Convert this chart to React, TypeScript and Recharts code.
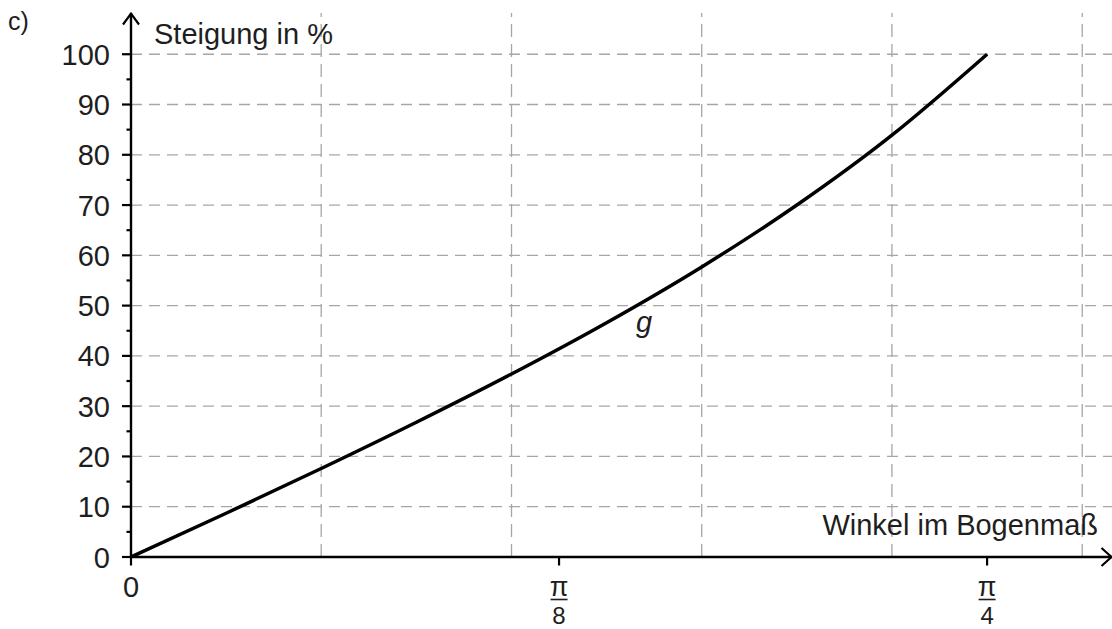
import React from "react";
import { LineChart, Line, XAxis, YAxis, ReferenceLine, ReferenceDot } from "recharts";

// Winkel im Bogenmaß (radians) and Steigung in %
const angles = [0, 0.0873, 0.1745, 0.2618, 0.3491, 0.4363, 0.5236, 0.6109, 0.6981, 0.7854];
const slopes = [0, 8.7, 17.6, 26.8, 36.4, 46.6, 57.7, 70.0, 83.9, 100];

const xTicks = [0, Math.PI / 8, Math.PI / 4];
const xTickNumerators = ["0", "π", "π"];
const xTickDenominators = ["", "8", "4"];
const xGrid = [0.1745, 0.3491, 0.5236, 0.6981, 0.8727]; // every 10°
const yTicks = [0, 5, 10, 15, 20, 25, 30, 35, 40, 45, 50, 55, 60, 65, 70, 75, 80, 85, 90, 95, 100];
const yGrid = [10, 20, 30, 40, 50, 60, 70, 80, 90, 100];

const X_MAX = 0.9;
const Y_MAX = 108.2;
const curveLabel = { x: 0.4633, y: 44.8, text: "g" };

const data = angles.map((a, i) => ({ x: a, y: slopes[i] }));

const FONT = '"Liberation Sans", Arial, Helvetica, sans-serif';
const TXT = "#1e1e1e";
const GRID = "#a6a6a6";

const YTick = (props: any) => {
  const { x, y, payload } = props;
  const v = payload.value;
  const major = v % 10 === 0;
  return (
    <g>
      <line x1={x - (major ? 9 : 4.5)} x2={x} y1={y} y2={y} stroke="#000" strokeWidth={2.2} />
      {major && (
        <text x={x - 21} y={y + 10.5} textAnchor="end" fontSize={29} fontFamily={FONT} fill={TXT}>
          {v}
        </text>
      )}
    </g>
  );
};

const XTick = (props: any) => {
  const { x, y, payload, index } = props;
  const i = typeof index === "number" ? index : xTicks.indexOf(payload.value);
  const num = xTickNumerators[i] ?? "";
  const den = xTickDenominators[i] ?? "";
  return (
    <g>
      <line x1={x} x2={x} y1={y} y2={y + 8.5} stroke="#000" strokeWidth={2.2} />
      {den === "" ? (
        <text x={x} y={y + 40} textAnchor="middle" fontSize={29} fontFamily={FONT} fill={TXT}>
          {num}
        </text>
      ) : (
        <g>
          <text x={x} y={y + 39} textAnchor="middle" fontSize={27} fontFamily={FONT} fill={TXT}>
            {num}
          </text>
          <line x1={x - 8.5} x2={x + 8.5} y1={y + 42.5} y2={y + 42.5} stroke={TXT} strokeWidth={1.6} />
          <text x={x} y={y + 66.5} textAnchor="middle" fontSize={24} fontFamily={FONT} fill={TXT}>
            {den}
          </text>
        </g>
      )}
    </g>
  );
};

const YArrow = (props: any) => {
  const { cx, cy } = props;
  return (
    <g>
      <path d={`M${cx - 8},${cy + 11.5} L${cx},${cy + 0.5} L${cx + 8},${cy + 11.5}`} fill="none" stroke="#000" strokeWidth={2.2} />
      <text x={cx + 23} y={cy + 31} fontSize={29} fontFamily={FONT} fill={TXT}>
        Steigung in %
      </text>
      <text x={cx - 123} y={cy + 17} fontSize={25} fontFamily={FONT} fill={TXT}>
        c)
      </text>
    </g>
  );
};

const XArrow = (props: any) => {
  const { cx, cy } = props;
  return (
    <g>
      <path d={`M${cx - 10.5},${cy - 9} L${cx - 0.5},${cy} L${cx - 10.5},${cy + 9}`} fill="none" stroke="#000" strokeWidth={2.2} />
      <text x={cx - 14} y={cy - 22} textAnchor="end" fontSize={29} fontFamily={FONT} fill={TXT}>
        Winkel im Bogenmaß
      </text>
    </g>
  );
};

const CurveLabel = (props: any) => {
  const { cx, cy } = props;
  return (
    <text x={cx} y={cy} fontSize={29} fontStyle="italic" fontFamily={FONT} fill={TXT}>
      {curveLabel.text}
    </text>
  );
};

export default function App() {
  return (
    <div style={{ position: "absolute", left: 0, top: 0, width: 1112, height: 629, background: "#fff" }}>
      <LineChart width={1112} height={629} data={data} margin={{ top: 13, right: 0, bottom: 0, left: 0 }}>
        {xGrid.map((gx) => (
          <ReferenceLine key={"vx" + gx} x={gx} stroke={GRID} strokeWidth={1.3} strokeDasharray="13 7" ifOverflow="visible" />
        ))}
        {yGrid.map((gy) => (
          <ReferenceLine key={"hy" + gy} y={gy} stroke={GRID} strokeWidth={1.3} strokeDasharray="11 7" ifOverflow="visible" />
        ))}
        <XAxis
          dataKey="x"
          type="number"
          domain={[0, X_MAX]}
          ticks={xTicks}
          interval={0}
          allowDataOverflow
          height={72}
          tickSize={0}
          tickMargin={0}
          tickLine={false}
          axisLine={{ stroke: "#000", strokeWidth: 2.4 }}
          tick={<XTick />}
        />
        <YAxis
          type="number"
          domain={[0, Y_MAX]}
          ticks={yTicks}
          interval={0}
          allowDataOverflow
          width={131}
          tickSize={0}
          tickMargin={0}
          tickLine={false}
          axisLine={{ stroke: "#000", strokeWidth: 2.4 }}
          tick={<YTick />}
        />
        <Line
          type="monotone"
          dataKey="y"
          stroke="#000"
          strokeWidth={3.5}
          dot={false}
          activeDot={false}
          isAnimationActive={false}
        />
        <ReferenceDot x={0} y={Y_MAX} r={0} ifOverflow="visible" shape={<YArrow />} />
        <ReferenceDot x={X_MAX} y={0} r={0} ifOverflow="visible" shape={<XArrow />} />
        <ReferenceDot x={curveLabel.x} y={curveLabel.y} r={0} ifOverflow="visible" shape={<CurveLabel />} />
      </LineChart>
    </div>
  );
}
